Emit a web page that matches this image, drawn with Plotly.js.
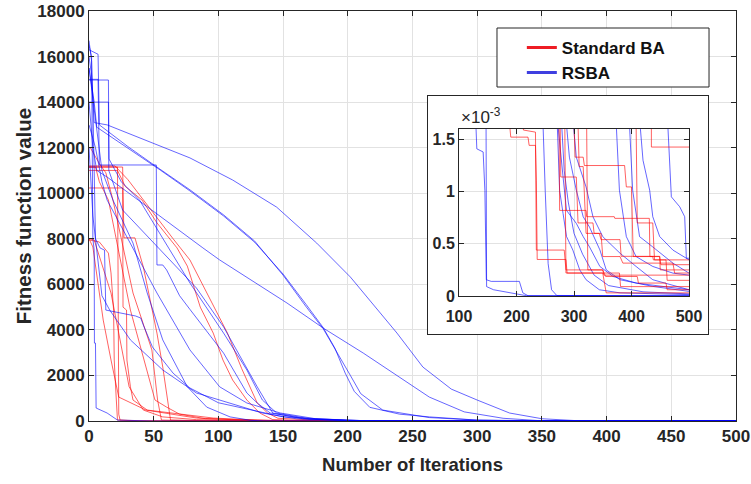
<!DOCTYPE html>
<html><head><meta charset="utf-8">
<script src="https://cdn.plot.ly/plotly-3.0.1.min.js"></script>
<style>
html,body{margin:0;padding:0;background:#fff;}
#wrap{position:relative;width:751px;height:484px;overflow:hidden;}
#main{position:absolute;left:0;top:0;width:751px;height:484px;}
#inset{position:absolute;left:427px;top:95px;width:280px;height:238px;border:1px solid #262626;background:#fff;}
</style></head><body>
<div id="wrap"><div id="main"></div><div id="inset"></div></div>
<script>
// ---- Standard BA runs (iteration, fitness) ----
const ba1_x = [0,8,15,17,19,19.5,21,22,35,70,120,150,190,220,222,233,234.5,236,286,288,379,381,500];
const ba1_y = [7950,7860,7370,6500,4870,2680,1050,40,10,2,0.2,0.004,1.522e-3,1.522e-3,1.443e-3,1.443e-3,1.11e-3,0.35e-3,0.35e-3,0.22e-3,0.22e-3,0.09e-3,0.09e-3];
const ba2_x = [0,3,8,11,17,23,44,83,110,150,200,212,233,234.5,283,286,350,352,500];
const ba2_y = [8000,7640,5620,4430,2680,1050,480,130,60,5,0.004,1.59e-3,1.57e-3,0.44e-3,0.44e-3,0.25e-3,0.25e-3,0.2e-3,0.2e-3];
const ba3_x = [0,4,17,23,31,42,57,83,130,200,260,274,275,321,322,370,371,431,432,449,450,500];
const ba3_y = [8000,7950,5620,3860,1500,480,180,60,10,0.5,0.003,1.65e-3,0.82e-3,0.82e-3,0.76e-3,0.76e-3,0.744e-3,0.744e-3,0.378e-3,0.378e-3,0.25e-3,0.25e-3];
const ba4_x = [0,26,27,35.5,42,47,52.5,57,61,63,90,150,250,290,300,302,316,318,388,391,400,403,437,438,500];
const ba4_y = [11150,11150,8040,8040,6760,5310,3860,2370,920,40,15,1,0.01,0.003,1.65e-3,1.33e-3,1.33e-3,1.25e-3,1.25e-3,1.045e-3,1.045e-3,0.378e-3,0.378e-3,0.346e-3,0.346e-3];
const ba5_x = [0,26,26.3,29,29.3,32,34,45,96,130,180,250,265,276,277,304,307,333,335,347,350,380,385,472,475,500];
const ba5_y = [10230,10230,5000,4870,2680,1500,920,480,130,40,2,0.02,0.003,1.65e-3,1.14e-3,1.14e-3,0.7e-3,0.7e-3,0.6e-3,0.6e-3,0.378e-3,0.378e-3,0.315e-3,0.315e-3,0.22e-3,0.22e-3];
const ba6_x = [0,5,8,15,32,49,51,60,70,90,140,220,350,420,434.5,434.6,500];
const ba6_y = [11150,11150,10500,9700,4870,1360,920,610,300,100,20,1,0.02,0.0018,0.0018,1.427e-3,1.427e-3];
const ba7_x = [0,1,8,13,18.5,34,48.6,53,56,80,130,250,284,286,350,356,500];
const ba7_y = [12000,12000,11300,10900,9700,5620,3120,920,40,15,1,0.01,1.65e-3,0.22e-3,0.22e-3,0.03e-3,0.03e-3];
const ba8_x = [0,20,30,52.5,65,78,92,107,118,130,138,146,175,215,270,310,322,324,350,355,410,412,460,462,500];
const ba8_y = [11200,11200,10600,8900,8000,7070,5500,3860,2300,790,350,120,40,8,0.3,0.004,1.65e-3,0.25e-3,0.25e-3,0.187e-3,0.187e-3,0.124e-3,0.124e-3,0.06e-3,0.06e-3];
const ba9_x = [0,22,28,41,52.5,68,76,86,96,103.5,111,122,132,142,160,200,250,300,390,408,410,437,440,460,462,500];
const ba9_y = [11000,11000,10300,9700,8700,7600,6800,5000,3860,2680,1800,920,350,60,30,5,0.2,0.01,0.003,1.65e-3,0.7e-3,0.7e-3,0.346e-3,0.346e-3,0.15e-3,0.15e-3];
const ba10_x = [0,22,22.5,23,24,40,80,150,290,307,309,316,321,344,347,380,382,449,451,500];
const ba10_y = [11150,11150,6000,300,40,10,1,0.05,0.003,1.65e-3,1.24e-3,1.24e-3,0.6e-3,0.6e-3,0.54e-3,0.54e-3,0.38e-3,0.38e-3,0.3e-3,0.3e-3];

// ---- RSBA runs (iteration, fitness) ----
const rs1_x = [0,2,4,14,78,111,145,176,202,219,238,258,280,300,325,350,377,420,450,462,463.5,469.3,483.8,492.5,495.4,500];
const rs1_y = [16000,15200,13100,13000,11550,10580,9390,7810,6320,5180,3860,2370,1400,920,350,100,15,2,0.01,0.0017,1.6e-3,0.95e-3,0.855e-3,0.76e-3,0.362e-3,0.362e-3];
const rs2_x = [0,4,6,29,55,78,104,128,150,168,181,190,198,205,217,240,263,300,340,370,390,396,402,414,437,472,500];
const rs2_y = [15500,14000,12900,12030,11020,10100,9000,7850,6450,5100,4100,3200,2100,1300,600,300,180,40,3,0.05,0.003,1.7e-3,1.014e-3,0.569e-3,0.47e-3,0.315e-3,0.219e-3];
const rs3_x = [0,7,8,30,55,78,104,128,150,168,181,192,202,210,227,263,300,330,350,365,373,379,391,408,437,472,500];
const rs3_y = [16300,16100,13000,12050,11050,10150,9050,7900,6400,5000,4050,3000,2000,1200,480,150,40,10,0.3,0.005,1.7e-3,1.014e-3,0.569e-3,0.378e-3,0.283e-3,0.219e-3,0.2e-3];
const rs4_x = [0,3,6,14,88,101,153,181,212,243,263,290,320,347,380,400,410,414,420,431.6,437,449,472,500];
const rs4_y = [14000,12000,11000,10710,7600,7070,5180,4080,2980,1800,1050,400,120,20,1,0.02,0.003,1.7e-3,1.3e-3,1.014e-3,0.76e-3,0.57e-3,0.44e-3,0.346e-3];
const rs5_x = [0,7,8,52,52.5,57,60,70,78,96,104,122,130,140,170,200,240,280,292,298,304,321,333,350,380,408,437,500];
const rs5_y = [15000,15000,11240,11240,6850,6850,6630,5500,4900,3560,2980,1230,790,350,80,20,1,0.01,0.003,1.7e-3,1.33e-3,1.045e-3,0.759e-3,0.569e-3,0.41e-3,0.283e-3,0.156e-3,0.06e-3];
const rs6_x = [0,15,15.5,25,39,78,104,122,134,145,170,210,240,270,282,286,292,304,316,327,345,356,380,437,500];
const rs6_y = [14970,14970,11500,10500,9700,6060,3860,2240,920,350,100,20,1,0.01,0.003,1.7e-3,1.33e-3,1.014e-3,0.759e-3,0.66e-3,0.442e-3,0.251e-3,0.156e-3,0.092e-3,0.044e-3];
const rs7_x = [0,2,3,4,4.2,5,5.5,14,22,50,90,120,128,131,142,145,147.5,156,205,211,220,500];
const rs7_y = [16500,16000,8000,7500,3420,3420,570,350,40,1,0.05,0.003,1.7e-3,1.41e-3,1.38e-3,1.01e-3,0.156e-3,0.14e-3,0.14e-3,0.03e-3,0.003e-3,0.001e-3];
const rs8_x = [0,2,3,5,8.5,12,13,26,36,40,42,49,65,78,100,150,200,225,238,245,250,255,261,270,500];
const rs8_y = [16700,15800,14000,8000,7600,7500,4870,4740,4610,4520,4210,3250,2100,1450,800,180,30,1,0.003,1.7e-3,1.0e-3,0.31e-3,0.06e-3,0.005e-3,0.002e-3];
const rs9_x = [0,15,15.3,26,83,104,130,142,165,200,240,265,271,281,287,304,316,327,345,368,408,500];
const rs9_y = [14000,14000,11000,9260,5840,4130,1500,350,100,20,0.5,0.003,1.7e-3,1.14e-3,0.82e-3,0.696e-3,0.569e-3,0.47e-3,0.283e-3,0.187e-3,0.124e-3,0.06e-3];
const rs10_x = [0,3,10,16,32,57,83,109,134,160,200,240,262,270,275,281,287,298,310,321,344,380,500];
const rs10_y = [12000,9000,5500,4870,3560,2240,1230,790,350,100,20,0.5,0.003,1.7e-3,1.01e-3,0.79e-3,0.57e-3,0.44e-3,0.25e-3,0.156e-3,0.06e-3,0.03e-3,0.013e-3];
const rs11_x = [0,10,18.5,34,45,57,76,91,109,125,135,142,146,148,160,194,217,500];
const rs11_y = [15500,11000,9700,7810,5620,3560,1500,610,180,30,1,0.01,1.7e-3,0.09e-3,0.06e-3,0.03e-3,0.003e-3,0];
const rs12_x = [0,5,10,14,52.5,78,101,122,148,175,210,250,272,278,283,290,300,315,335,360,420,500];
const rs12_y = [13000,12000,10500,9700,5620,3120,1500,790,350,100,20,0.5,0.003,1.7e-3,1.2e-3,0.9e-3,0.6e-3,0.4e-3,0.2e-3,0.1e-3,0.04e-3,0.02e-3];

// ---- labels & ticks ----
const seriesNames = ['Standard BA', 'RSBA'];
const xTicks = [0,50,100,150,200,250,300,350,400,450,500];
const yTicks = [0,2000,4000,6000,8000,10000,12000,14000,16000,18000];
const yTickText = ['0','2000','4000','6000','8000','10000','12000','14000','16000','18000'];
const insetXTicks = [100,200,300,400,500];
const insetYTicks = [0,0.0005,0.001,0.0015];
const insetYText = ['0','0.5','1','1.5'];
const xTitle = 'Number of Iterations';
const yTitle = 'Fitness function value';
const insetExponent = '\u00d710<sup>-3</sup>';

const baRuns = [[ba1_x,ba1_y],[ba2_x,ba2_y],[ba3_x,ba3_y],[ba4_x,ba4_y],[ba5_x,ba5_y],[ba6_x,ba6_y],[ba7_x,ba7_y],[ba8_x,ba8_y],[ba9_x,ba9_y],[ba10_x,ba10_y]];
const rsRuns = [[rs1_x,rs1_y],[rs2_x,rs2_y],[rs3_x,rs3_y],[rs4_x,rs4_y],[rs5_x,rs5_y],[rs6_x,rs6_y],[rs7_x,rs7_y],[rs8_x,rs8_y],[rs9_x,rs9_y],[rs10_x,rs10_y],[rs11_x,rs11_y],[rs12_x,rs12_y]];

const RED = 'rgba(255,0,0,0.62)';
const BLUE = 'rgba(0,0,255,0.6)';
const FONT = 'Liberation Sans, Arial, Helvetica, sans-serif';
const INK = '#262626';

function runTraces(runs, color) {
  return runs.map(r => ({x: r[0], y: r[1], type: 'scatter', mode: 'lines',
    line: {color: color, width: 1}, showlegend: false, hoverinfo: 'skip'}));
}
const legendTraces = [
  {x: [null], y: [null], type: 'scatter', mode: 'lines', name: seriesNames[0], line: {color: '#ee1c24', width: 3}},
  {x: [null], y: [null], type: 'scatter', mode: 'lines', name: seriesNames[1], line: {color: '#3f3fe0', width: 3}}
];

const axisCommon = {
  showline: true, linecolor: INK, linewidth: 1, mirror: 'ticks',
  ticks: 'inside', ticklen: 5, tickcolor: INK, tickwidth: 1,
  showgrid: true, gridcolor: '#e2e2e2', gridwidth: 1, zeroline: false
};

const mainLayout = {
  width: 751, height: 484,
  margin: {l: 89, r: 15, t: 11, b: 63},
  paper_bgcolor: '#fff', plot_bgcolor: '#fff',
  font: {family: FONT, color: INK},
  xaxis: Object.assign({}, axisCommon, {
    range: [0, 500], tickmode: 'array', tickvals: xTicks,
    tickfont: {family: FONT, size: 17, weight: 'bold', color: INK},
    title: {text: xTitle, font: {family: FONT, size: 18.5, weight: 'bold', color: INK}, standoff: 12}
  }),
  yaxis: Object.assign({}, axisCommon, {
    range: [0, 18000], tickmode: 'array', tickvals: yTicks, ticktext: yTickText,
    tickfont: {family: FONT, size: 17, weight: 'bold', color: INK},
    title: {text: yTitle, font: {family: FONT, size: 20.5, weight: 'bold', color: INK}, standoff: 0}
  }),
  showlegend: true,
  legend: {x: 0.669, y: 0.954, xanchor: 'left', yanchor: 'top', bgcolor: 'rgba(0,0,0,0)',
    borderwidth: 0, font: {family: FONT, size: 17, weight: 'bold', color: '#111'}},
  shapes: [{type: 'rect', xref: 'paper', yref: 'paper', x0: 0.6306, x1: 0.9583, y0: 0.8146, y1: 0.9585,
    fillcolor: '#fff', line: {color: INK, width: 1}, layer: 'above'}]
};

Plotly.newPlot('main', runTraces(baRuns, RED).concat(runTraces(rsRuns, BLUE), legendTraces), mainLayout,
  {staticPlot: true, displayModeBar: false});

const insetLayout = {
  width: 280, height: 238,
  margin: {l: 31, r: 19, t: 33, b: 38},
  paper_bgcolor: '#fff', plot_bgcolor: '#fff',
  font: {family: FONT, color: INK},
  showlegend: false,
  xaxis: Object.assign({}, axisCommon, {
    range: [100, 500], tickmode: 'array', tickvals: insetXTicks, ticklabelstandoff: 6,
    tickfont: {family: FONT, size: 16, weight: 'bold', color: INK}
  }),
  yaxis: Object.assign({}, axisCommon, {
    range: [0, 0.0016], tickmode: 'array', tickvals: insetYTicks, ticktext: insetYText,
    tickfont: {family: FONT, size: 16, weight: 'bold', color: INK}
  }),
  annotations: [{text: insetExponent, xref: 'paper', yref: 'paper', x: 0.0, y: 1.0,
    xanchor: 'left', yanchor: 'bottom', showarrow: false,
    font: {family: FONT, size: 17, color: INK}}]
};

Plotly.newPlot('inset', runTraces(rsRuns, BLUE).concat(runTraces(baRuns, RED)), insetLayout,
  {staticPlot: true, displayModeBar: false});
</script></body></html>
